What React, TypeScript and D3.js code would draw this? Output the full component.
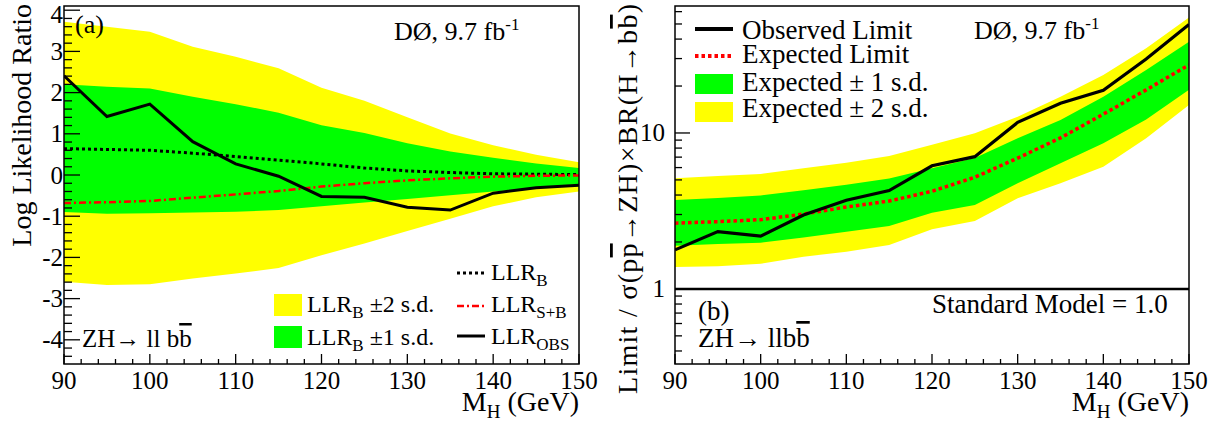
import React from "react";
import * as d3 from "d3";

const masses = [90, 95, 100, 105, 110, 115, 120, 125, 130, 135, 140, 145, 150];

// Panel (a): LLR
const llrObs = [2.41, 1.42, 1.72, 0.81, 0.27, -0.03, -0.52, -0.54, -0.78, -0.85, -0.44, -0.31, -0.25];
const llrB = [0.64, 0.62, 0.6, 0.53, 0.45, 0.36, 0.27, 0.17, 0.1, 0.06, 0.03, 0.02, 0.01];
const llrSB = [-0.68, -0.66, -0.63, -0.55, -0.47, -0.39, -0.28, -0.2, -0.13, -0.08, -0.04, -0.02, -0.01];
const llr1Up = [2.2, 2.14, 2.1, 1.9, 1.72, 1.51, 1.21, 1.02, 0.77, 0.57, 0.42, 0.28, 0.17];
const llr1Dn = [-0.9, -0.94, -0.93, -0.91, -0.89, -0.85, -0.76, -0.67, -0.58, -0.49, -0.4, -0.32, -0.22];
const llr2Up = [3.72, 3.6, 3.48, 3.11, 2.87, 2.59, 2.12, 1.8, 1.4, 1.01, 0.72, 0.49, 0.31];
const llr2Dn = [-2.59, -2.67, -2.65, -2.51, -2.39, -2.26, -1.95, -1.66, -1.36, -1.06, -0.76, -0.54, -0.4];
const llrTicks = [-4, -3, -2, -1, 0, 1, 2, 3, 4];

// Panel (b): limits
const limObs = [1.78, 2.33, 2.18, 2.98, 3.7, 4.27, 6.16, 7.05, 11.7, 15.5, 18.8, 29.8, 49.6];
const limExp = [2.64, 2.7, 2.78, 3.02, 3.35, 3.66, 4.23, 5.2, 6.9, 9.3, 13.2, 18.9, 27.3];
const lim1Up = [3.72, 3.83, 3.97, 4.3, 4.65, 5.1, 5.94, 6.9, 9.25, 12.1, 17.1, 25.3, 38.5];
const lim1Dn = [1.89, 1.94, 1.98, 2.14, 2.33, 2.53, 3.08, 3.45, 4.76, 6.4, 8.6, 12.2, 18.9];
const lim2Up = [5.12, 5.3, 5.46, 5.93, 6.45, 7.12, 8.4, 9.96, 12.7, 17.1, 23.5, 34.9, 55];
const lim2Dn = [1.38, 1.4, 1.45, 1.61, 1.73, 1.91, 2.41, 2.73, 3.81, 4.76, 6.08, 9.25, 15.1];
const limMajor = [1, 10];
const limMinor = [0.4, 0.5, 0.6, 0.7, 0.8, 0.9, 2, 3, 4, 5, 6, 7, 8, 9, 20, 30, 40, 50, 60];

const xMajor = [90, 100, 110, 120, 130, 140, 150];
const xMinor = d3.range(92, 150, 2).filter((v) => v % 10 !== 0);

const FONT = "'Liberation Serif', 'Times New Roman', Times, serif";
const YELLOW = "#ffff00";
const GREEN = "#00ff00";

type Pt = [number, number];
const pts = (ys: number[]): Pt[] => masses.map((m, i) => [m, ys[i]]);
const band = (lo: number[], hi: number[]) => masses.map((m, i) => ({ m, lo: lo[i], hi: hi[i] }));

function XAxis({ x, bottom }: { x: d3.ScaleLinear<number, number>; bottom: number }) {
  return (
    <g>
      {xMajor.map((v) => (
        <g key={"M" + v}>
          <line x1={x(v)} x2={x(v)} y1={bottom} y2={bottom - 10} stroke="#000" strokeWidth={1.3} />
          <text x={x(v)} y={389} textAnchor="middle" fontSize={25} fontFamily={FONT}>
            {v}
          </text>
        </g>
      ))}
      {xMinor.map((v) => (
        <line key={"m" + v} x1={x(v)} x2={x(v)} y1={bottom} y2={bottom - 5} stroke="#000" strokeWidth={1.3} />
      ))}
    </g>
  );
}

function PanelA() {
  const x = d3.scaleLinear().domain([90, 150]).range([64, 579]);
  const y = d3.scaleLinear().domain([-4.587, 4.102]).range([364, 6]);
  const line = d3.line<Pt>().x((d) => x(d[0])).y((d) => y(d[1]));
  const area = d3
    .area<{ m: number; lo: number; hi: number }>()
    .x((d) => x(d.m))
    .y0((d) => y(d.lo))
    .y1((d) => y(d.hi));
  const yMinor = d3.range(-4.4, 4.1, 0.2).map((v) => Math.round(v * 10) / 10).filter((v) => Math.abs(v - Math.round(v)) > 0.05);
  return (
    <g>
      <defs>
        <clipPath id="clipA">
          <rect x={64} y={6} width={515} height={358} />
        </clipPath>
      </defs>
      <g clipPath="url(#clipA)">
        <path d={area(band(llr2Dn, llr2Up)) || ""} fill={YELLOW} />
        <path d={area(band(llr1Dn, llr1Up)) || ""} fill={GREEN} />
        <path d={line(pts(llrB)) || ""} fill="none" stroke="#000" strokeWidth={3} strokeDasharray="3,3" />
        <path d={line(pts(llrSB)) || ""} fill="none" stroke="#ff0000" strokeWidth={2.5} strokeDasharray="7,3,2,3" />
        <path d={line(pts(llrObs)) || ""} fill="none" stroke="#000" strokeWidth={3} strokeLinejoin="miter" />
      </g>
      <rect x={64} y={6} width={515} height={358} fill="none" stroke="#000" strokeWidth={1.5} />
      {llrTicks.map((v) => (
        <g key={"yt" + v}>
          <line x1={64} x2={80} y1={y(v)} y2={y(v)} stroke="#000" strokeWidth={1.3} />
          <text x={63} y={Math.max(y(v) + 8.5, 23)} textAnchor="end" fontSize={25} fontFamily={FONT}>
            {v}
          </text>
        </g>
      ))}
      {yMinor.map((v) => (
        <line key={"ym" + v} x1={64} x2={72} y1={y(v)} y2={y(v)} stroke="#000" strokeWidth={1.3} />
      ))}
      <XAxis x={x} bottom={364} />
      <text transform="translate(31,4) rotate(-90)" textAnchor="end" fontSize={28} fontFamily={FONT}>
        Log Likelihood Ratio
      </text>
      <text x={579} y={411} textAnchor="end" fontSize={28} fontFamily={FONT}>
        M<tspan dy={7} fontSize={19}>H</tspan>
        <tspan dy={-7}> (GeV)</tspan>
      </text>
      <text x={75} y={33} fontSize={26} fontFamily={FONT}>(a)</text>
      <text x={394} y={40} fontSize={26} fontFamily={FONT}>
        DØ, 9.7 fb<tspan dy={-10} fontSize={17}>-1</tspan>
      </text>
      <text x={82} y={347} fontSize={25} fontFamily={FONT}>
        ZH→ ll b<tspan style={{ textDecoration: "overline" }}>b</tspan>
      </text>
      {/* legend */}
      <rect x={274} y={294} width={28} height={22} fill={YELLOW} />
      <rect x={274} y={326} width={28} height={22} fill={GREEN} />
      <text x={307} y={312} fontSize={24} fontFamily={FONT}>
        LLR<tspan dy={6} fontSize={17}>B</tspan>
        <tspan dy={-6}> ±2 s.d.</tspan>
      </text>
      <text x={307} y={345} fontSize={24} fontFamily={FONT}>
        LLR<tspan dy={6} fontSize={17}>B</tspan>
        <tspan dy={-6}> ±1 s.d.</tspan>
      </text>
      <line x1={457} x2={485} y1={273} y2={273} stroke="#000" strokeWidth={3} strokeDasharray="3,3" />
      <line x1={457} x2={485} y1={306} y2={306} stroke="#ff0000" strokeWidth={2.5} strokeDasharray="7,3,2,3" />
      <line x1={457} x2={485} y1={336} y2={336} stroke="#000" strokeWidth={3} />
      <text x={491} y={280} fontSize={24} fontFamily={FONT}>
        LLR<tspan dy={6} fontSize={17}>B</tspan>
      </text>
      <text x={491} y={312} fontSize={24} fontFamily={FONT}>
        LLR<tspan dy={6} fontSize={17}>S+B</tspan>
      </text>
      <text x={491} y={344} fontSize={24} fontFamily={FONT}>
        LLR<tspan dy={6} fontSize={17}>OBS</tspan>
      </text>
    </g>
  );
}

function PanelB() {
  const x = d3.scaleLinear().domain([90, 150]).range([675, 1189]);
  const y = d3.scaleLog().domain([0.33, 65.2]).range([364, 6]);
  const line = d3.line<Pt>().x((d) => x(d[0])).y((d) => y(d[1]));
  const area = d3
    .area<{ m: number; lo: number; hi: number }>()
    .x((d) => x(d.m))
    .y0((d) => y(d.lo))
    .y1((d) => y(d.hi));
  const ov = { textDecoration: "overline" } as React.CSSProperties;
  return (
    <g>
      <defs>
        <clipPath id="clipB">
          <rect x={675} y={6} width={514} height={358} />
        </clipPath>
      </defs>
      <g clipPath="url(#clipB)">
        <path d={area(band(lim2Dn, lim2Up)) || ""} fill={YELLOW} />
        <path d={area(band(lim1Dn, lim1Up)) || ""} fill={GREEN} />
        <path d={line(pts(limExp)) || ""} fill="none" stroke="#ff0000" strokeWidth={3.5} strokeDasharray="3.5,3" />
        <path d={line(pts(limObs)) || ""} fill="none" stroke="#000" strokeWidth={3.2} />
        <line x1={675} x2={1189} y1={y(1)} y2={y(1)} stroke="#000" strokeWidth={2.5} />
      </g>
      <rect x={675} y={6} width={514} height={358} fill="none" stroke="#000" strokeWidth={1.5} />
      {limMajor.map((v) => (
        <g key={"lt" + v}>
          <line x1={675} x2={690} y1={y(v)} y2={y(v)} stroke="#000" strokeWidth={1.3} />
          <text x={665} y={y(v) + 8.5} textAnchor="end" fontSize={25} fontFamily={FONT}>
            {v}
          </text>
        </g>
      ))}
      {limMinor.map((v) => (
        <line key={"lm" + v} x1={675} x2={682} y1={y(v)} y2={y(v)} stroke="#000" strokeWidth={1.3} />
      ))}
      <XAxis x={x} bottom={364} />
      <text
        transform="translate(637,4) rotate(-90)"
        textAnchor="end"
        fontSize={28}
        fontFamily={FONT}
        textLength={390}
        lengthAdjust="spacing"
      >
        Limit / σ(p<tspan style={ov}>p</tspan>→ZH)×BR(H→b<tspan style={ov}>b</tspan>)
      </text>
      <text x={1189} y={411} textAnchor="end" fontSize={28} fontFamily={FONT}>
        M<tspan dy={7} fontSize={19}>H</tspan>
        <tspan dy={-7}> (GeV)</tspan>
      </text>
      <text x={974} y={39} fontSize={26} fontFamily={FONT}>
        DØ, 9.7 fb<tspan dy={-10} fontSize={17}>-1</tspan>
      </text>
      <text x={932} y={313} fontSize={27} fontFamily={FONT}>Standard Model = 1.0</text>
      <text x={698} y={320} fontSize={27} fontFamily={FONT}>(b)</text>
      <text x={698} y={347} fontSize={27} fontFamily={FONT}>
        ZH→ llb<tspan style={ov}>b</tspan>
      </text>
      {/* legend */}
      <line x1={695} x2={733} y1={29} y2={29} stroke="#000" strokeWidth={4} />
      <line x1={695} x2={733} y1={56} y2={56} stroke="#ff0000" strokeWidth={4} strokeDasharray="3.5,3" />
      <rect x={695} y={74} width={38} height={20} fill={GREEN} />
      <rect x={695} y={102} width={38} height={20} fill={YELLOW} />
      <text x={742} y={39} fontSize={27} fontFamily={FONT}>Observed Limit</text>
      <text x={742} y={63} fontSize={27} fontFamily={FONT}>Expected Limit</text>
      <text x={742} y={91} fontSize={27} fontFamily={FONT}>Expected ± 1 s.d.</text>
      <text x={742} y={117} fontSize={27} fontFamily={FONT}>Expected ± 2 s.d.</text>
    </g>
  );
}

export default function App() {
  return (
    <svg
      width={1229}
      height={429}
      viewBox="0 0 1229 429"
      style={{ position: "absolute", left: 0, top: 0, background: "#fff" }}
    >
      <rect x={0} y={0} width={1229} height={429} fill="#fff" />
      <PanelA />
      <PanelB />
    </svg>
  );
}
